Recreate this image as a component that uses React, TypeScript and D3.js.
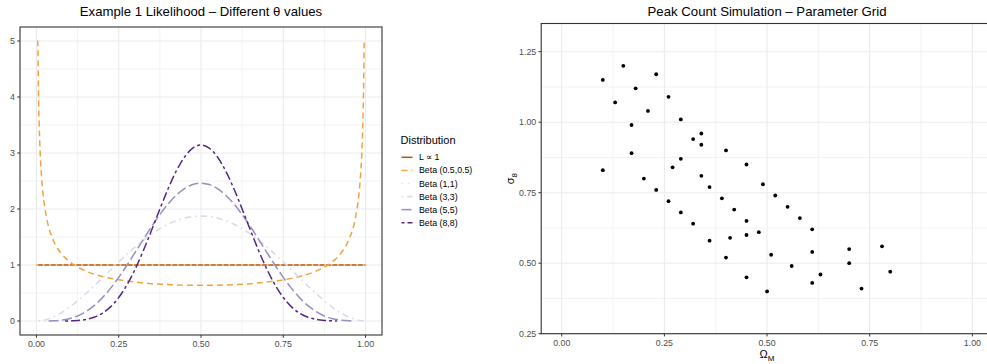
import React from 'react';
import * as d3 from 'd3';

// ---------------- DATA ----------------
const SERIES_NAMES = ['L \u221D 1', 'Beta (0.5,0.5)', 'Beta (1,1)', 'Beta (3,3)', 'Beta (5,5)', 'Beta (8,8)'];

const L1_THETA = [0, 1];
const L1_DENS = [1, 1];

const B05_THETA = [0.002, 0.004, 0.006, 0.01, 0.015, 0.02, 0.03, 0.05, 0.075, 0.1,
  0.15, 0.2, 0.25, 0.3, 0.35, 0.4, 0.45, 0.5, 0.55, 0.6, 0.65, 0.7, 0.75, 0.8, 0.85,
  0.9, 0.925, 0.95, 0.97, 0.98, 0.985, 0.99, 0.994, 0.996, 0.998];
const B05_DENS = [5, 5, 4.122, 3.199, 2.619, 2.274, 1.866, 1.461, 1.209, 1.061,
  0.891, 0.796, 0.735, 0.695, 0.667, 0.65, 0.64, 0.637, 0.64, 0.65, 0.667, 0.695, 0.735, 0.796, 0.891,
  1.061, 1.209, 1.461, 1.866, 2.274, 2.619, 3.199, 4.122, 5, 5];

const B11_THETA = [0, 1];
const B11_DENS = [1, 1];

const B33_THETA = [0.006, 0.01, 0.025, 0.05, 0.075, 0.1,
  0.15, 0.2, 0.25, 0.3, 0.35, 0.4, 0.45, 0.5, 0.55, 0.6, 0.65, 0.7, 0.75, 0.8, 0.85,
  0.9, 0.925, 0.95, 0.975, 0.99, 0.994];
const B33_DENS = [0.0011, 0.0029, 0.0178, 0.0677, 0.1444, 0.243,
  0.4877, 0.768, 1.0547, 1.323, 1.5527, 1.728, 1.8377, 1.875, 1.8377, 1.728, 1.5527, 1.323, 1.0547, 0.768, 0.4877,
  0.243, 0.1444, 0.0677, 0.0178, 0.0029, 0.0011];

const B55_THETA = [0.037, 0.05, 0.075, 0.1, 0.125, 0.15, 0.175, 0.2, 0.225, 0.25, 0.275, 0.3, 0.325, 0.35, 0.375,
  0.4, 0.425, 0.45, 0.475, 0.5, 0.525, 0.55, 0.575, 0.6, 0.625, 0.65, 0.675, 0.7, 0.725, 0.75, 0.775, 0.8,
  0.825, 0.85, 0.875, 0.9, 0.925, 0.95, 0.963];
const B55_DENS = [0.001, 0.0032, 0.0146, 0.0413, 0.0902, 0.1665, 0.2737, 0.4129, 0.5825, 0.7787, 0.9954, 1.2252, 1.4591, 1.6876, 1.901,
  2.0902, 2.2468, 2.364, 2.4364, 2.4609, 2.4364, 2.364, 2.2468, 2.0902, 1.901, 1.6876, 1.4591, 1.2252, 0.9954, 0.7787, 0.5825, 0.4129,
  0.2737, 0.1665, 0.0902, 0.0413, 0.0146, 0.0032, 0.001];

const B88_THETA = [0.087, 0.1, 0.125, 0.15, 0.175, 0.2, 0.225, 0.25, 0.275, 0.3, 0.325, 0.35, 0.375, 0.4, 0.425, 0.45, 0.475,
  0.5, 0.525, 0.55, 0.575, 0.6, 0.625, 0.65, 0.675, 0.7, 0.725, 0.75, 0.775, 0.8, 0.825, 0.85, 0.875, 0.9, 0.913];
const B88_DENS = [0.001, 0.0025, 0.0096, 0.0282, 0.0673, 0.1382, 0.2524, 0.4194, 0.6447, 0.9272, 1.2587, 1.6237, 2.0, 2.3611, 2.6794, 2.9286, 3.0875,
  3.1421, 3.0875, 2.9286, 2.6794, 2.3611, 2.0, 1.6237, 1.2587, 0.9272, 0.6447, 0.4194, 0.2524, 0.1382, 0.0673, 0.0282, 0.0096, 0.0025, 0.001];

const LEFT_X_TICKS = [0, 0.25, 0.5, 0.75, 1];
const LEFT_Y_TICKS = [0, 1, 2, 3, 4, 5];

const OMEGA_M = [0.15, 0.23, 0.10, 0.18, 0.13, 0.26, 0.21, 0.29, 0.17, 0.34,
  0.32, 0.34, 0.40, 0.17, 0.29, 0.10, 0.27, 0.45, 0.20, 0.34,
  0.36, 0.49, 0.23, 0.39, 0.52, 0.26, 0.29, 0.42, 0.55, 0.58,
  0.32, 0.45, 0.61, 0.48, 0.36, 0.41, 0.45, 0.70, 0.78, 0.61,
  0.51, 0.40, 0.70, 0.56, 0.80, 0.63, 0.45, 0.61, 0.73, 0.50];
const SIGMA_8 = [1.20, 1.17, 1.15, 1.12, 1.07, 1.09, 1.04, 1.01, 0.99, 0.96,
  0.94, 0.92, 0.90, 0.89, 0.87, 0.83, 0.84, 0.85, 0.80, 0.81,
  0.77, 0.78, 0.76, 0.73, 0.74, 0.72, 0.68, 0.69, 0.70, 0.66,
  0.64, 0.65, 0.62, 0.61, 0.58, 0.59, 0.60, 0.55, 0.56, 0.54,
  0.53, 0.52, 0.50, 0.49, 0.47, 0.46, 0.45, 0.43, 0.41, 0.40];

const RIGHT_X_TICKS = [0, 0.25, 0.5, 0.75, 1];
const RIGHT_Y_TICKS = [0.25, 0.5, 0.75, 1.0, 1.25];

// ---------------- STYLE ----------------
const W = 987;
const H = 364;
const FONT = 'Liberation Sans, Arial, Helvetica, sans-serif';
const COLORS = ['#B35806', '#F1A340', '#FEE0B6', '#D8DAEB', '#998EC3', '#542788'];
const DASHES = ['none', '6 4', '1.6 4.8', '1.6 4 6.4 4', '10 3.5', '3 3 9 3'];
const GRID = '#EBEBEB';
const BORDER = '#333333';
const TICKCOL = '#4D4D4D';

const fmt2 = (v: number) => v.toFixed(2);

export default function App() {
  const series = [
    { t: L1_THETA, d: L1_DENS },
    { t: B05_THETA, d: B05_DENS },
    { t: B11_THETA, d: B11_DENS },
    { t: B33_THETA, d: B33_DENS },
    { t: B55_THETA, d: B55_DENS },
    { t: B88_THETA, d: B88_DENS },
  ];

  // Left panel
  const L = { x0: 20, x1: 382, y0: 27, y1: 335 };
  const xL = d3.scaleLinear().domain([-0.05, 1.05]).range([L.x0, L.x1]);
  const yL = d3.scaleLinear().domain([-0.25, 5.25]).range([L.y1, L.y0]);
  const leftXMinor = [0.125, 0.375, 0.625, 0.875];
  const leftYMinor = [0.5, 1.5, 2.5, 3.5, 4.5];

  // Right panel
  const R = { x0: 541.2, x1: 992.9, y0: 23.5, y1: 333.7 };
  const xR = d3.scaleLinear().domain([-0.05, 1.05]).range([R.x0, R.x1]);
  const yR = d3.scaleLinear().domain([0.25, 1.35]).range([R.y1, R.y0]);
  const rightXMinor = [0.125, 0.375, 0.625, 0.875];
  const rightYMinor = [0.375, 0.625, 0.875, 1.125];

  const lineGen = d3.line<[number, number]>()
    .x((p) => xL(p[0]))
    .y((p) => yL(p[1]))
    .curve(d3.curveMonotoneX);

  const lw = 1.5;

  return (
    <svg width={W} height={H} style={{ position: 'absolute', left: 0, top: 0, background: '#fff' }}
      fontFamily={FONT}>
      <rect x={0} y={0} width={W} height={H} fill="#fff" />
      <defs>
        <clipPath id="clipL"><rect x={L.x0} y={L.y0} width={L.x1 - L.x0} height={L.y1 - L.y0} /></clipPath>
        <clipPath id="clipR"><rect x={R.x0} y={R.y0} width={R.x1 - R.x0} height={R.y1 - R.y0} /></clipPath>
      </defs>
      {/* ---------- LEFT PANEL ---------- */}
      <g>
        {leftXMinor.map((v) => (
          <line key={'lxm' + v} x1={xL(v)} x2={xL(v)} y1={L.y0} y2={L.y1} stroke={GRID} strokeWidth={0.6} />
        ))}
        {leftYMinor.map((v) => (
          <line key={'lym' + v} x1={L.x0} x2={L.x1} y1={yL(v)} y2={yL(v)} stroke={GRID} strokeWidth={0.6} />
        ))}
        {LEFT_X_TICKS.map((v) => (
          <line key={'lx' + v} x1={xL(v)} x2={xL(v)} y1={L.y0} y2={L.y1} stroke={GRID} strokeWidth={1.1} />
        ))}
        {LEFT_Y_TICKS.map((v) => (
          <line key={'ly' + v} x1={L.x0} x2={L.x1} y1={yL(v)} y2={yL(v)} stroke={GRID} strokeWidth={1.1} />
        ))}
        <g clipPath="url(#clipL)">
          {series.map((s, i) => (
            <path key={'s' + i}
              d={lineGen(s.t.map((t, j) => [t, s.d[j]] as [number, number])) || ''}
              fill="none" stroke={COLORS[i]} strokeWidth={lw}
              strokeDasharray={DASHES[i]} />
          ))}
        </g>
        <rect x={L.x0} y={L.y0} width={L.x1 - L.x0} height={L.y1 - L.y0} fill="none" stroke={BORDER} strokeWidth={1.1} />
        {LEFT_X_TICKS.map((v) => (
          <g key={'lxt' + v}>
            <line x1={xL(v)} x2={xL(v)} y1={L.y1} y2={L.y1 + 2.75} stroke={BORDER} strokeWidth={1} />
            <text x={xL(v)} y={L.y1 + 12.3} fontSize={8.8} fill={TICKCOL} textAnchor="middle">{fmt2(v)}</text>
          </g>
        ))}
        {LEFT_Y_TICKS.map((v) => (
          <g key={'lyt' + v}>
            <line x1={L.x0 - 2.75} x2={L.x0} y1={yL(v)} y2={yL(v)} stroke={BORDER} strokeWidth={1} />
            <text x={L.x0 - 5} y={yL(v)} dy="0.35em" fontSize={8.8} fill={TICKCOL} textAnchor="end">{String(v)}</text>
          </g>
        ))}
        <text x={(L.x0 + L.x1) / 2} y={16} fontSize={13.2} fill="#000" textAnchor="middle">
          Example 1 Likelihood – Different θ values
        </text>
      </g>

      {/* ---------- LEGEND ---------- */}
      <g>
        <text x={400.5} y={143.5} fontSize={11} fill="#000">Distribution</text>
        {SERIES_NAMES.map((name, i) => {
          const cy = 157.3 + i * 13.08;
          return (
            <g key={'lg' + i}>
              <line x1={401.5} x2={412.5} y1={cy} y2={cy} stroke={COLORS[i]} strokeWidth={lw}
                strokeDasharray={DASHES[i]} />
              <text x={419} y={cy} dy="0.35em" fontSize={8.8} fill="#000">{name}</text>
            </g>
          );
        })}
      </g>

      {/* ---------- RIGHT PANEL ---------- */}
      <g>
        {rightXMinor.map((v) => (
          <line key={'rxm' + v} x1={xR(v)} x2={xR(v)} y1={R.y0} y2={R.y1} stroke={GRID} strokeWidth={0.6} />
        ))}
        {rightYMinor.map((v) => (
          <line key={'rym' + v} x1={R.x0} x2={R.x1} y1={yR(v)} y2={yR(v)} stroke={GRID} strokeWidth={0.6} />
        ))}
        {RIGHT_X_TICKS.map((v) => (
          <line key={'rx' + v} x1={xR(v)} x2={xR(v)} y1={R.y0} y2={R.y1} stroke={GRID} strokeWidth={1.1} />
        ))}
        {RIGHT_Y_TICKS.map((v) => (
          <line key={'ry' + v} x1={R.x0} x2={R.x1} y1={yR(v)} y2={yR(v)} stroke={GRID} strokeWidth={1.1} />
        ))}
        <g clipPath="url(#clipR)">
          {OMEGA_M.map((om, i) => (
            <circle key={'pt' + i} cx={xR(om)} cy={yR(SIGMA_8[i])} r={1.9} fill="#000" />
          ))}
        </g>
        <rect x={R.x0} y={R.y0} width={R.x1 - R.x0} height={R.y1 - R.y0} fill="none" stroke={BORDER} strokeWidth={1.1} />
        {RIGHT_X_TICKS.map((v) => (
          <g key={'rxt' + v}>
            <line x1={xR(v)} x2={xR(v)} y1={R.y1} y2={R.y1 + 2.75} stroke={BORDER} strokeWidth={1} />
            <text x={xR(v)} y={R.y1 + 12.3} fontSize={8.8} fill={TICKCOL} textAnchor="middle">{fmt2(v)}</text>
          </g>
        ))}
        {RIGHT_Y_TICKS.map((v) => (
          <g key={'ryt' + v}>
            <line x1={R.x0 - 2.75} x2={R.x0} y1={yR(v)} y2={yR(v)} stroke={BORDER} strokeWidth={1} />
            <text x={R.x0 - 5} y={yR(v)} dy="0.35em" fontSize={8.8} fill={TICKCOL} textAnchor="end">{fmt2(v)}</text>
          </g>
        ))}
        <text x={(R.x0 + R.x1) / 2} y={16} fontSize={13.2} fill="#000" textAnchor="middle">
          Peak Count Simulation – Parameter Grid
        </text>
        <text x={(R.x0 + R.x1) / 2} y={357.5} fontSize={11} fill="#000" textAnchor="middle">
          Ω<tspan fontSize={8} dy={3}>M</tspan>
        </text>
        <text transform={`translate(514, ${(R.y0 + R.y1) / 2}) rotate(-90)`} fontSize={11} fill="#000" textAnchor="middle">
          σ<tspan fontSize={8} dy={3}>8</tspan>
        </text>
      </g>
    </svg>
  );
}
